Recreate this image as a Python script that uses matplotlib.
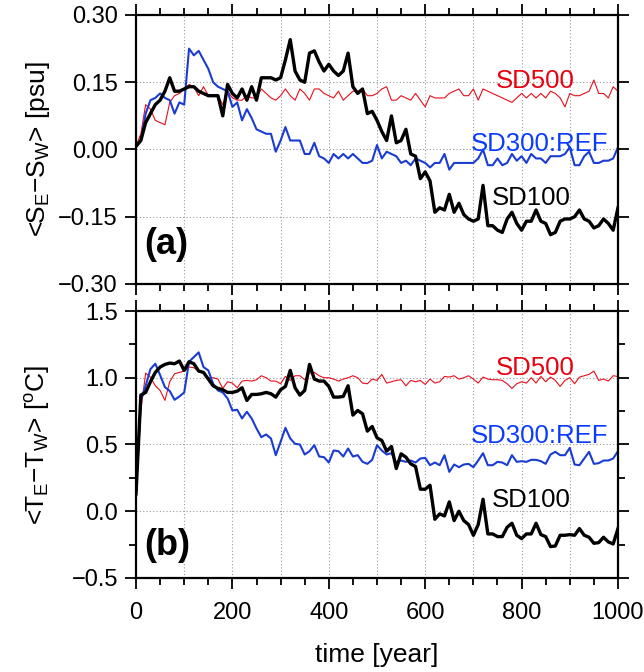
import numpy as np
import matplotlib
matplotlib.use('Agg')
import matplotlib.pyplot as plt
from matplotlib.ticker import MultipleLocator, FuncFormatter

plt.rcParams['font.family'] = ['Liberation Sans', 'DejaVu Sans']
plt.rcParams['mathtext.fontset'] = 'custom'
plt.rcParams['mathtext.rm'] = 'Liberation Sans'
plt.rcParams['mathtext.it'] = 'Liberation Sans:italic'
plt.rcParams['mathtext.bf'] = 'Liberation Sans:bold'

# model years, one value every 10 years
years = np.arange(0, 1001, 10)

# (a) salinity difference <S_E - S_W> [psu]
sal_sd100 = [
    0.007, 0.02, 0.06, 0.08, 0.10, 0.11, 0.13, 0.16, 0.13, 0.13,
    0.135, 0.14, 0.14, 0.13, 0.125, 0.12, 0.12, 0.12, 0.075, 0.145,
    0.125, 0.115, 0.135, 0.11, 0.14, 0.11, 0.16, 0.16, 0.16, 0.155,
    0.16, 0.20, 0.245, 0.175, 0.155, 0.15, 0.215, 0.22, 0.195, 0.175,
    0.19, 0.175, 0.165, 0.175, 0.215, 0.14, 0.125, 0.135, 0.08, 0.085,
    0.065, 0.04, 0.02, 0.075, 0.015, 0.02, 0.045, -0.01, -0.015, -0.065,
    -0.05, -0.07, -0.14, -0.13, -0.135, -0.10, -0.14, -0.12, -0.145, -0.155,
    -0.16, -0.155, -0.08, -0.17, -0.17, -0.18, -0.185, -0.155, -0.14, -0.165,
    -0.18, -0.16, -0.16, -0.135, -0.16, -0.165, -0.19, -0.185, -0.16, -0.155,
    -0.155, -0.15, -0.135, -0.155, -0.16, -0.175, -0.17, -0.155, -0.165, -0.18,
    -0.13]
sal_sd300 = [
    0.007, 0.02, 0.08, 0.11, 0.115, 0.125, 0.115, 0.11, 0.08, 0.105,
    0.10, 0.225, 0.21, 0.22, 0.20, 0.18, 0.15, 0.14, 0.135, 0.13,
    0.095, 0.105, 0.065, 0.09, 0.07, 0.045, 0.04, 0.035, 0.035, -0.005,
    0.02, 0.05, 0.02, 0.02, 0.02, -0.01, -0.01, 0.015, -0.015, -0.02,
    -0.03, -0.01, -0.02, -0.01, -0.02, -0.01, -0.02, -0.03, -0.03, -0.025,
    0.01, -0.02, -0.005, -0.01, -0.015, -0.03, -0.025, -0.035, -0.02, -0.025,
    -0.03, -0.04, -0.03, -0.03, -0.01, -0.045, -0.03, -0.03, -0.03, -0.03,
    -0.03, -0.02, 0.0, -0.035, -0.035, -0.02, -0.035, -0.03, -0.01, -0.025,
    -0.015, -0.03, -0.01, -0.02, -0.02, -0.03, -0.015, -0.015, -0.015, -0.01,
    0.005, -0.035, -0.035, -0.015, -0.005, -0.03, -0.03, -0.025, -0.025, -0.02,
    0.005]
sal_sd500 = [
    0.007, 0.035, 0.10, 0.09, 0.065, 0.06, 0.055, 0.105, 0.12, 0.125,
    0.135, 0.145, 0.14, 0.12, 0.14, 0.12, 0.12, 0.12, 0.10, 0.13,
    0.115, 0.11, 0.11, 0.12, 0.115, 0.115, 0.135, 0.125, 0.115, 0.11,
    0.12, 0.135, 0.12, 0.11, 0.135, 0.125, 0.11, 0.135, 0.135, 0.125,
    0.12, 0.115, 0.13, 0.11, 0.12, 0.13, 0.13, 0.135, 0.12, 0.12,
    0.125, 0.135, 0.14, 0.11, 0.11, 0.12, 0.115, 0.11, 0.125, 0.11,
    0.095, 0.12, 0.115, 0.115, 0.115, 0.125, 0.13, 0.135, 0.12, 0.12,
    0.135, 0.11, 0.135, 0.13, 0.125, 0.12, 0.115, 0.11, 0.105, 0.115,
    0.125, 0.115, 0.125, 0.115, 0.125, 0.115, 0.13, 0.125, 0.115, 0.095,
    0.125, 0.12, 0.12, 0.125, 0.13, 0.155, 0.125, 0.125, 0.115, 0.14,
    0.13]

# (b) temperature difference <T_E - T_W> [oC]
tem_sd100 = [
    0.13, 0.87, 0.89, 0.97, 1.04, 1.08, 1.10, 1.11, 1.105, 1.125,
    1.055, 1.12, 1.105, 1.05, 1.04, 0.99, 0.94, 0.92, 0.91, 0.89,
    0.89, 0.90, 0.925, 0.83, 0.875, 0.875, 0.88, 0.89, 0.88, 0.855,
    0.91, 0.935, 1.055, 0.925, 0.87, 0.905, 1.10, 0.99, 0.975, 0.975,
    0.935, 0.855, 0.855, 0.86, 0.94, 0.72, 0.755, 0.73, 0.60, 0.635,
    0.55, 0.53, 0.45, 0.485, 0.32, 0.43, 0.405, 0.355, 0.335, 0.165,
    0.165, 0.195, -0.06, -0.02, -0.035, 0.07, -0.07, 0.0, -0.07, -0.10,
    -0.18, -0.10, 0.09, -0.17, -0.17, -0.19, -0.19, -0.12, -0.09, -0.18,
    -0.205, -0.17, -0.17, -0.09, -0.175, -0.19, -0.265, -0.26, -0.18, -0.18,
    -0.175, -0.18, -0.13, -0.18, -0.195, -0.24, -0.235, -0.195, -0.23, -0.245,
    -0.13]
tem_sd300 = [
    0.13, 0.83, 0.94, 1.065, 1.105, 1.02, 0.93, 0.90, 0.835, 0.86,
    0.89, 1.12, 1.155, 1.19, 1.08, 1.055, 0.955, 0.905, 0.89, 0.845,
    0.755, 0.76, 0.695, 0.745, 0.695, 0.62, 0.555, 0.575, 0.545, 0.42,
    0.52, 0.625, 0.545, 0.505, 0.50, 0.425, 0.45, 0.495, 0.41, 0.405,
    0.365, 0.455, 0.45, 0.41, 0.47, 0.41, 0.42, 0.37, 0.355, 0.385,
    0.495, 0.455, 0.425, 0.435, 0.365, 0.38, 0.37, 0.38, 0.365, 0.395,
    0.40, 0.345, 0.365, 0.345, 0.42, 0.295, 0.35, 0.33, 0.35, 0.355,
    0.33, 0.38, 0.435, 0.345, 0.345, 0.37, 0.365, 0.345, 0.42, 0.37,
    0.375, 0.37, 0.385, 0.385, 0.375, 0.355, 0.425, 0.445, 0.42, 0.42,
    0.475, 0.35, 0.345, 0.395, 0.445, 0.355, 0.36, 0.38, 0.38, 0.395,
    0.45]
tem_sd500 = [
    0.13, 0.755, 1.035, 1.005, 0.94, 0.905, 0.83, 0.97, 1.03, 1.04,
    1.05, 1.08, 1.075, 1.05, 1.04, 1.0, 1.0, 0.99, 0.92, 0.97,
    0.96, 0.925, 0.975, 0.98, 0.975, 0.985, 1.015, 1.0, 0.975, 0.975,
    0.955, 1.01, 0.98, 1.015, 1.015, 0.985, 1.035, 1.04, 1.015, 1.0,
    1.0, 0.99, 0.975, 0.99, 1.0, 1.015, 1.0, 0.96, 0.955, 0.99,
    0.98, 1.025, 0.96, 0.97, 0.98, 0.985, 0.94, 0.98, 0.97, 0.98,
    0.95, 0.99, 0.96, 0.97, 1.01, 1.005, 1.015, 0.99, 1.0, 1.015,
    0.99, 0.96, 1.005, 0.99, 0.985, 0.985, 0.98, 0.955, 0.92, 0.955,
    0.97, 0.96, 1.0, 0.96, 1.01, 0.97, 1.005, 0.98, 0.935, 0.98,
    1.0, 0.955, 1.005, 1.015, 1.025, 1.05, 0.98, 0.99, 0.975, 1.015,
    1.01]

RED = '#e60f1c'
BLUE = '#1a3cd2'
TXT_RED = '#e8000e'
TXT_BLUE = '#0a3cff'
GRID = dict(color='#999999', lw=0.8, ls=(0, (1, 2)), zorder=0)


def fmt(decimals):
    # real minus sign, like the original figure
    return FuncFormatter(lambda v, pos: f'{v:.{decimals}f}'.replace('-', '\u2212'))


fig = plt.figure(figsize=(6.44, 6.72), dpi=100)
ax1 = fig.add_axes([0.2112, 0.5774, 0.7484, 0.4003])
ax2 = fig.add_axes([0.2112, 0.1399, 0.7484, 0.3973])


def style(ax):
    for sp in ax.spines.values():
        sp.set_linewidth(1.6)
    ax.set_xlim(0, 1000)
    ax.xaxis.set_major_locator(MultipleLocator(200))
    ax.xaxis.set_minor_locator(MultipleLocator(50))
    ax.tick_params(which='both', direction='out', top=True, right=True,
                   width=1.3, labelsize=17)
    ax.tick_params(which='major', length=8)
    ax.tick_params(which='minor', length=5)
    ax.tick_params(axis='y', pad=5)
    ax.tick_params(axis='x', pad=9)
    for x in np.arange(100, 1000, 100):
        ax.axvline(x, **GRID)


# ---- (a) salinity
style(ax1)
ax1.plot(years, sal_sd500, color=RED, lw=0.8)
ax1.plot(years, sal_sd300, color=BLUE, lw=1.5)
ax1.plot(years, sal_sd100, color='black', lw=2.4)
ax1.set_ylim(-0.30, 0.30)
ax1.yaxis.set_major_locator(MultipleLocator(0.15))
ax1.yaxis.set_major_formatter(fmt(2))
ax1.tick_params(axis='x', labelbottom=False)
for y in (-0.15, 0.0, 0.15):
    ax1.axhline(y, **GRID)
ax1.text(828, 0.152, 'SD500', color=TXT_RED, fontsize=18.5, ha='center', va='center')
ax1.text(838, 0.013, 'SD300:REF', color=TXT_BLUE, fontsize=18.5, ha='center', va='center')
ax1.text(820, -0.108, 'SD100', color='black', fontsize=18.5, ha='center', va='center')
ax1.text(18, -0.213, '(a)', fontsize=26, fontweight='bold', ha='left', va='center')
ax1.set_ylabel(r'<S$_{\rm E}$$-$S$_{\rm W}$> [psu]', fontsize=19)
ax1.yaxis.set_label_coords(-0.175, 0.5)

# ---- (b) temperature
style(ax2)
ax2.plot(years, tem_sd500, color=RED, lw=0.8)
ax2.plot(years, tem_sd300, color=BLUE, lw=1.5)
ax2.plot(years, tem_sd100, color='black', lw=2.4)
ax2.set_ylim(-0.5, 1.5)
ax2.yaxis.set_major_locator(MultipleLocator(0.5))
ax2.yaxis.set_minor_locator(MultipleLocator(0.25))
ax2.yaxis.set_major_formatter(fmt(1))
for y in (0.0, 0.5, 1.0):
    ax2.axhline(y, **GRID)
ax2.text(828, 1.075, 'SD500', color=TXT_RED, fontsize=18.5, ha='center', va='center')
ax2.text(838, 0.56, 'SD300:REF', color=TXT_BLUE, fontsize=18.5, ha='center', va='center')
ax2.text(820, 0.085, 'SD100', color='black', fontsize=18.5, ha='center', va='center')
ax2.text(18, -0.253, '(b)', fontsize=26, fontweight='bold', ha='left', va='center')
ax2.set_ylabel(r'<T$_{\rm E}$$-$T$_{\rm W}$> [$^{\rm o}$C]', fontsize=19)
ax2.yaxis.set_label_coords(-0.175, 0.5)
ax2.set_xlabel('time [year]', fontsize=19, labelpad=14)

fig.savefig('out.png', dpi=100)
